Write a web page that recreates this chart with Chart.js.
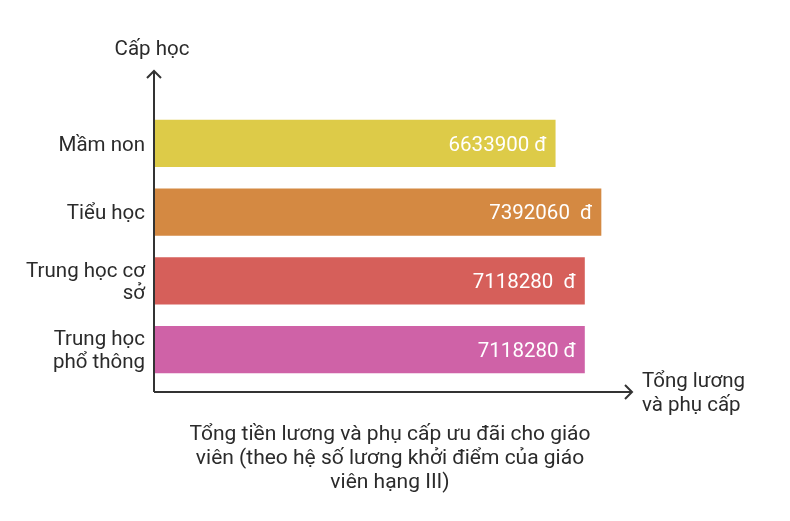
<!DOCTYPE html>
<html>
<head>
<meta charset="utf-8">
<script src="https://cdn.jsdelivr.net/npm/chart.js@4"></script>
<style>
    html, body { margin: 0; padding: 0; background: #ffffff; }
    #wrap { width: 790px; height: 521px; position: relative; }
</style>
</head>
<body>
<div id="wrap"><canvas id="chart"></canvas></div>
<script>
const categories  = [['Mầm non'], ['Tiểu học'], ['Trung học cơ', 'sở'], ['Trung học', 'phổ thông']];
const salaries    = [6633900, 7392060, 7118280, 7118280];
const valueLabels = ['6633900 đ', '7392060  đ', '7118280  đ', '7118280 đ'];
const barColors   = ['#ddcb48', '#d48942', '#d65f5a', '#cf62a7'];
const yTitle      = 'Cấp học';
const xTitle      = ['Tổng lương', 'và phụ cấp'];
const bottomTitle = ['Tổng tiền lương và phụ cấp ưu đãi cho giáo', 'viên (theo hệ số lương khởi điểm của giáo', 'viên hạng III)'];

const TEXT = '#2b2b2b';
const FONT = '20.5px Roboto';

// Truc co mui ten, nhan gia tri trong thanh va cac tieu de
const decor = {
    id: 'decor',
    afterDatasetsDraw(chart) {
        const { ctx, chartArea: a } = chart;
        const meta = chart.getDatasetMeta(0);

        ctx.save();
        ctx.font = FONT;
        ctx.fillStyle = '#ffffff';
        ctx.textAlign = 'right';
        ctx.textBaseline = 'middle';
        meta.data.forEach((bar, i) => {
            ctx.fillText(valueLabels[i], bar.x - 9, bar.y + 2);
        });

        const ox = a.left - 1, oy = a.bottom + 8;
        ctx.strokeStyle = '#333333';
        ctx.lineWidth = 2;
        ctx.beginPath();
        ctx.moveTo(ox, oy);
        ctx.lineTo(ox, a.top - 38);
        ctx.moveTo(ox - 7, a.top - 31);
        ctx.lineTo(ox, a.top - 38);
        ctx.lineTo(ox + 7, a.top - 31);
        ctx.moveTo(ox, oy);
        ctx.lineTo(a.right, oy);
        ctx.moveTo(a.right - 7, oy - 7);
        ctx.lineTo(a.right, oy);
        ctx.lineTo(a.right - 7, oy + 7);
        ctx.stroke();

        ctx.fillStyle = TEXT;
        ctx.textAlign = 'center';
        ctx.fillText(yTitle, ox - 2, a.top - 59);

        ctx.textAlign = 'left';
        xTitle.forEach((t, i) => ctx.fillText(t, a.right + 10, oy - 10 + i * 24));

        ctx.font = '21px Roboto';
        ctx.textAlign = 'center';
        bottomTitle.forEach((t, i) => ctx.fillText(t, 390, oy + 43 + i * 24));
        ctx.restore();
    }
};

new Chart(document.getElementById('chart').getContext('2d'), {
    type: 'bar',
    data: {
        labels: categories,
        datasets: [{
            data: salaries,
            backgroundColor: barColors,
            borderWidth: 0,
            barPercentage: 1,
            categoryPercentage: 0.684,
        }]
    },
    options: {
        indexAxis: 'y',
        responsive: true,
        maintainAspectRatio: false,
        animation: false,
        layout: { padding: { top: 109, bottom: 137, left: 0, right: 158 } },
        plugins: {
            legend: { display: false },
            tooltip: { enabled: false },
        },
        scales: {
            x: { display: false, min: 0, max: 7900000 },
            y: {
                afterFit: s => { s.width = 155; },
                grid: { display: false, drawTicks: false },
                border: { display: false },
                ticks: {
                    color: TEXT,
                    padding: 10,
                    labelOffset: 2,
                    crossAlign: 'near',
                    font: { family: 'Roboto', size: 20.5, lineHeight: 1.1 },
                }
            }
        }
    },
    plugins: [decor]
});
</script>
</body>
</html>
